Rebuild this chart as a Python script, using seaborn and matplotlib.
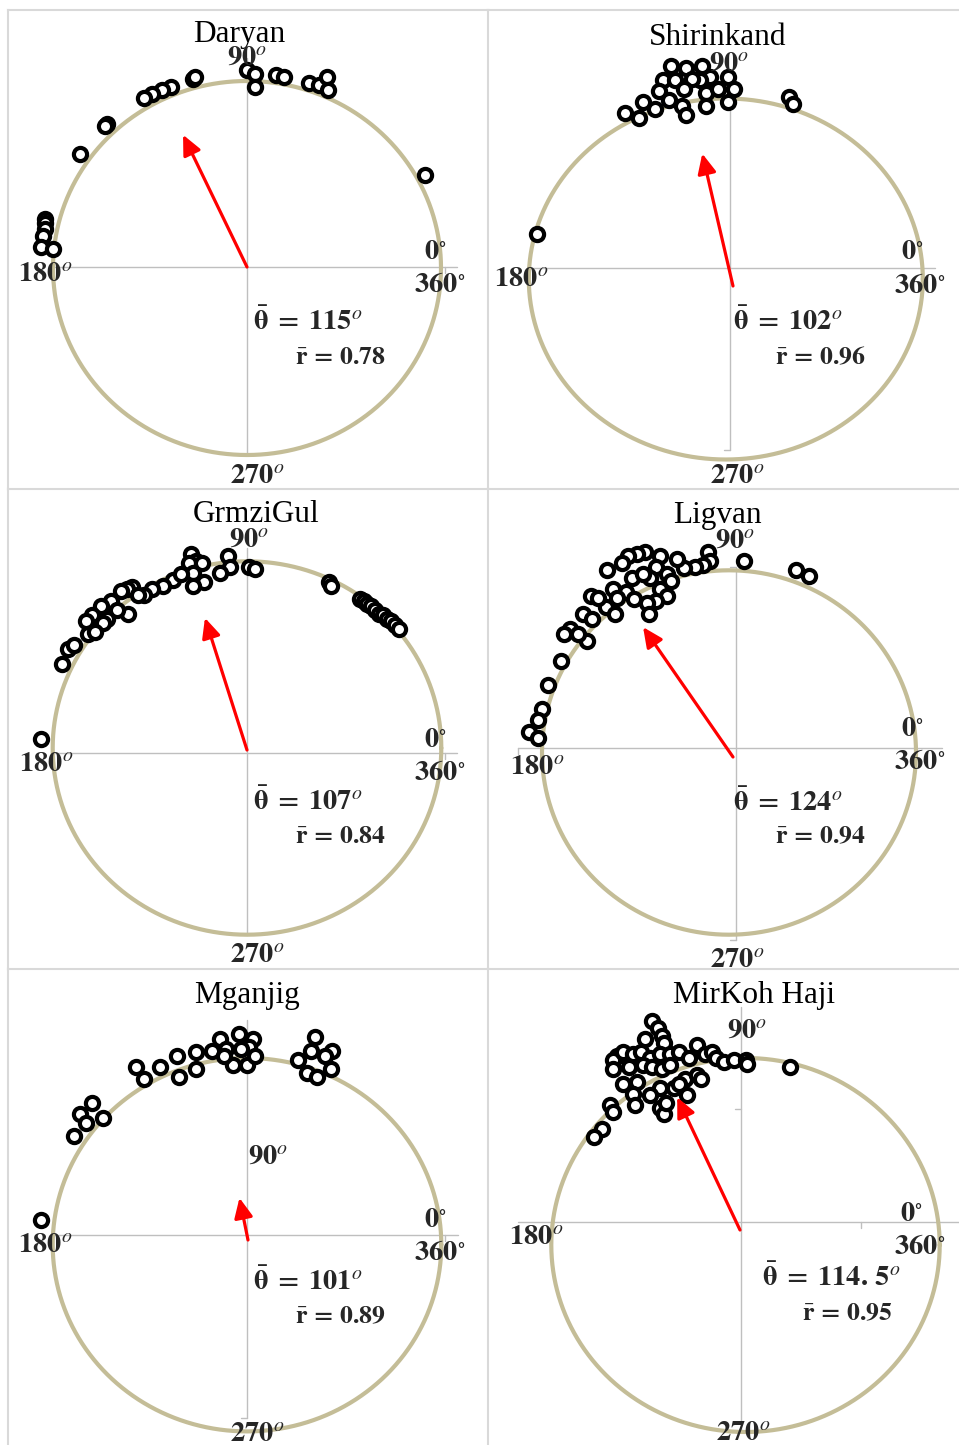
import numpy as np
import matplotlib
matplotlib.use("Agg")
import matplotlib.pyplot as plt
import seaborn as sns

# ---------------------------------------------------------------- data ----
stations = ["Daryan", "Shirinkand", "GrmziGul", "Ligvan", "Mganjig", "MirKoh Haji"]
mean_dir_deg = [115, 102, 107, 124, 101, 114.5]
mean_dir_text = ["115", "102", "107", "124", "101", "114.\\,5"]
mean_r = [0.78, 0.96, 0.84, 0.94, 0.89, 0.95]
arrow_len = [0.78, 0.75, 0.74, 0.86, 0.23, 0.78]

# observations as unit-circle components (east, north)
daryan_x = [0.00, 0.04, 0.04, 0.15, 0.19, 0.32, 0.37, 0.41, 0.42, -0.28, -0.27, -0.39, -0.44,
            -0.49, -0.53, -0.72, -0.73, -0.86, 0.92, -1.04, -1.04, -1.04, -1.05, -1.06, -1.00]
daryan_y = [1.06, 1.04, 0.97, 1.03, 1.02, 0.99, 0.98, 1.02, 0.95, 1.01, 1.02, 0.97, 0.95,
            0.93, 0.91, 0.77, 0.76, 0.61, 0.50, 0.26, 0.24, 0.21, 0.17, 0.11, 0.10]

shirinkand_x = [-0.28, -0.20, -0.12, -0.08, -0.13, -0.32, -0.26, -0.17, 0.01, -0.34, -0.21, -0.29, -0.10,
                -0.04, 0.04, 0.01, -0.42, -0.51, -0.44, -0.36, -0.22, -0.20, -0.10, 0.32, 0.34, -0.96]
shirinkand_y = [1.18, 1.17, 1.18, 1.12, 1.10, 1.10, 1.10, 1.11, 1.12, 1.04, 1.05, 0.99, 1.03,
                1.05, 1.05, 0.98, 0.98, 0.92, 0.89, 0.94, 0.96, 0.91, 0.96, 1.01, 0.97, 0.25]

grmzigul_x = [-0.29, -0.26, -0.30, -0.23, -0.28, -0.22, -0.28, -0.10, -0.09, -0.14, 0.01, 0.04,
              -0.38, -0.43, -0.49, -0.53, -0.59, -0.62, -0.65, -0.70, -0.75, -0.80, -0.83, -0.82,
              -0.61, -0.92, -0.95, -0.89, -1.06, 0.42, 0.43, 0.58, 0.60, 0.62, 0.64, 0.66, 0.68,
              0.70, 0.72, 0.74, 0.76, 0.78, -0.34, -0.56, -0.67, -0.72, -0.74, -0.78]
grmzigul_y = [1.04, 1.00, 0.99, 0.99, 0.94, 0.89, 0.87, 1.03, 0.97, 0.94, 0.97, 0.96,
              0.90, 0.87, 0.85, 0.82, 0.86, 0.85, 0.84, 0.79, 0.76, 0.71, 0.68, 0.61,
              0.72, 0.53, 0.45, 0.55, 0.05, 0.89, 0.87, 0.80, 0.79, 0.77, 0.76, 0.74, 0.72,
              0.71, 0.69, 0.68, 0.66, 0.64, 0.93, 0.82, 0.74, 0.69, 0.67, 0.62]

ligvan_x = [0.08, 0.36, 0.43, -0.11, -0.10, -0.14, -0.18, -0.24, -0.28, -0.37, -0.45, -0.49,
            -0.54, -0.57, -0.65, -0.39, -0.33, -0.42, -0.52, -0.46, -0.31, -0.37, -0.33, -0.39,
            -0.44, -0.43, -0.55, -0.62, -0.60, -0.66, -0.61, -0.74, -0.70, -0.78, -0.73, -0.85,
            -0.88, -0.76, -0.81, -0.90, -0.97, -1.00, -1.02, -1.07, -1.02, -0.51]
ligvan_y = [1.05, 1.00, 0.97, 1.10, 1.05, 1.03, 1.02, 1.01, 1.06, 1.08, 1.10, 1.09,
            1.08, 1.04, 1.00, 1.02, 0.98, 0.96, 0.96, 0.98, 0.94, 0.90, 0.86, 0.83,
            0.82, 0.76, 0.88, 0.90, 0.85, 0.80, 0.76, 0.86, 0.85, 0.76, 0.73, 0.68,
            0.65, 0.61, 0.65, 0.50, 0.37, 0.24, 0.18, 0.11, 0.08, 0.84]

mganjig_x = [-0.04, 0.03, 0.01, -0.14, -0.11, -0.18, -0.26, -0.26, -0.07, 0.00, 0.04, -0.03,
             -0.12, -0.36, -0.45, -0.35, -0.57, -0.53, 0.35, 0.33, 0.44, 0.40, 0.26, 0.43,
             0.31, 0.36, -0.80, -0.86, -0.74, -0.83, -0.89, -1.06]
mganjig_y = [1.13, 1.10, 1.06, 1.10, 1.05, 1.04, 1.03, 0.94, 0.96, 0.96, 1.01, 1.05,
             1.01, 1.01, 0.95, 0.90, 0.95, 0.89, 1.11, 1.04, 1.04, 1.01, 0.99, 0.94,
             0.92, 0.90, 0.76, 0.70, 0.68, 0.65, 0.58, 0.13]

mirkoh_x = [-0.48, -0.45, -0.43, -0.52, -0.42, -0.25, -0.66, -0.68, -0.63, -0.58, -0.54, -0.49,
            -0.44, -0.39, -0.34, -0.29, -0.21, -0.17, -0.15, -0.11, -0.06, 0.00, 0.01, 0.23,
            -0.68, -0.60, -0.53, -0.48, -0.43, -0.39, -0.31, -0.25, -0.23, -0.63, -0.56, -0.44,
            -0.37, -0.34, -0.30, -0.49, -0.58, -0.57, -0.44, -0.42, -0.41, -0.70, -0.68, -0.74, -0.78]
mirkoh_y = [1.20, 1.16, 1.12, 1.10, 1.08, 1.07, 1.01, 0.99, 1.03, 1.02, 1.03, 1.00,
            1.02, 1.02, 1.03, 1.00, 1.02, 1.03, 1.00, 0.98, 0.99, 0.99, 0.97, 0.95,
            0.94, 0.95, 0.96, 0.95, 0.94, 0.96, 0.89, 0.91, 0.89, 0.86, 0.87, 0.84,
            0.84, 0.86, 0.80, 0.80, 0.81, 0.75, 0.73, 0.70, 0.76, 0.75, 0.71, 0.62, 0.58]

obs_x = [daryan_x, shirinkand_x, grmzigul_x, ligvan_x, mganjig_x, mirkoh_x]
obs_y = [daryan_y, shirinkand_y, grmzigul_y, ligvan_y, mganjig_y, mirkoh_y]

# ------------------------------------------------------------- layout ----
W, H = 959, 1445
# pixel layout of each cell: cell box, circle centre/radii, axis cross, axis
# line extents and tick marks, arrow tail, label anchors
panels = [
    dict(cell=(8, 10, 488, 489), c=(247, 268), r=(194, 187), cross=(247, 267),
         h=(52, 457), v=(58, 455), ht=[445], vt=[], tail=(247, 267), title=(239, 42),
         l90=(247, 56, "center"), l180=(45, 272), l0=(435, 250), l360=(440, 283),
         l270=(257, 474), th=(253, 321), rb=(295, 355)),
    dict(cell=(488, 10, 959, 489), c=(725.8, 279), r=(197, 180.5), cross=(730, 268),
         h=(528, 935), v=(100, 450), ht=[], vt=[450], tail=(733, 286), title=(718, 45),
         l90=(729, 62, "center"), l180=(521, 277), l0=(912, 250), l360=(920, 284),
         l270=(737, 474), th=(733, 321), rb=(775, 355)),
    dict(cell=(8, 489, 488, 969), c=(247, 748), r=(194.3, 186.7), cross=(247, 753),
         h=(52, 457), v=(548, 935), ht=[445], vt=[], tail=(247, 750), title=(256, 522),
         l90=(249, 538, "center"), l180=(46, 762), l0=(435, 738), l360=(440, 771),
         l270=(257, 953), th=(253, 800), rb=(295, 834)),
    dict(cell=(488, 489, 959, 969), c=(729, 752.5), r=(187, 182.2), cross=(736, 748),
         h=(518, 942), v=(567, 940), ht=[518], vt=[567, 940], tail=(733, 757), title=(717, 523),
         l90=(735, 539, "center"), l180=(537, 765), l0=(912, 727), l360=(920, 760),
         l270=(737, 958), th=(733, 801), rb=(775, 834)),
    dict(cell=(8, 969, 488, 1445), c=(247, 1244.7), r=(194.3, 186.7), cross=(247, 1235),
         h=(52, 458), v=(1020, 1418), ht=[445], vt=[1418], tail=(248, 1240), title=(247, 1003),
         l90=(248, 1155, "left"), l180=(45, 1243), l0=(435, 1218), l360=(440, 1251),
         l270=(257, 1432), th=(253, 1281), rb=(295, 1314)),
    dict(cell=(488, 969, 959, 1445), c=(745.5, 1245), r=(194.2, 187), cross=(741, 1222),
         h=(518, 959), v=(1007, 1432), ht=[861], vt=[1109], tail=(740, 1230), title=(754, 1003),
         l90=(747, 1029, "center"), l180=(536, 1235), l0=(911, 1212), l360=(920, 1245),
         l270=(743, 1431), th=(762, 1277), rb=(802, 1311)),
]

RING = "#C4BD97"
AXIS_GREY = "#BFBFBF"
BORDER = "#D9D9D9"
LABEL_FS = 20.5
TICK_PX = 6
HALF_DIGIT = 9.0  # baseline sits this many pixels below a label's visual centre

sns.set_theme(style="white")
plt.rcParams["font.family"] = ["Liberation Serif", "DejaVu Serif"]
plt.rcParams["mathtext.fontset"] = "stix"

fig = plt.figure(figsize=(W / 100, H / 100), dpi=100)
fig.patch.set_facecolor("white")


def put(px, py, s, **kw):
    fig.text(px / W, 1 - py / H, s, **kw)


theta = np.linspace(0, 2 * np.pi, 721)

for i, p in enumerate(panels):
    L, T, R, B = p["cell"]
    cx, cy = p["c"]
    rx, ry = p["r"]
    ax = fig.add_axes([L / W, 1 - B / H, (R - L) / W, (B - T) / H])
    ax.set_xlim((L - cx) / rx, (R - cx) / rx)
    ax.set_ylim((cy - B) / ry, (cy - T) / ry)
    ax.set_xticks([])
    ax.set_yticks([])
    ax.set_facecolor("white")
    for side in ("right", "bottom"):
        ax.spines[side].set_visible(False)
    for side in ("left", "top"):
        ax.spines[side].set_color(BORDER)
        ax.spines[side].set_linewidth(1.5)

    def dx(px):
        return (px - cx) / rx

    def dy(py):
        return (cy - py) / ry

    # axis cross with its outside tick marks
    ox, oy = dx(p["cross"][0]), dy(p["cross"][1])
    line_kw = dict(color=AXIS_GREY, lw=1.0, zorder=1)
    ax.plot([dx(p["h"][0]), dx(p["h"][1])], [oy, oy], **line_kw)
    ax.plot([ox, ox], [dy(p["v"][1]), dy(p["v"][0])], **line_kw)
    for tx_px in p["ht"]:
        ax.plot([dx(tx_px)] * 2, [oy, dy(p["cross"][1] + TICK_PX)], **line_kw)
    for ty_px in p["vt"]:
        ax.plot([dx(p["cross"][0] - TICK_PX), ox], [dy(ty_px)] * 2, **line_kw)

    # unit circle
    ax.plot(np.cos(theta), np.sin(theta), color=RING, lw=3.0, zorder=2)

    # observations
    sns.scatterplot(x=obs_x[i], y=obs_y[i], ax=ax, s=90, marker="o",
                    facecolor="white", edgecolor="black", linewidth=3.0,
                    zorder=4, legend=False, clip_on=False)

    # mean direction vector
    tx, ty = dx(p["tail"][0]), dy(p["tail"][1])
    ang = np.deg2rad(mean_dir_deg[i])
    hx = tx + arrow_len[i] * np.cos(ang)
    hy = ty + arrow_len[i] * np.sin(ang)
    ax.annotate("", xy=(hx, hy), xytext=(tx, ty),
                arrowprops=dict(arrowstyle="-|>,head_length=0.6,head_width=0.28",
                                color="#FF0000", lw=2.3, shrinkA=0, shrinkB=0,
                                mutation_scale=20),
                zorder=5)

    # texts
    put(p["title"][0], p["title"][1], stations[i], fontsize=22.5,
        ha="center", va="baseline", color="black")
    x90, y90, ha90 = p["l90"]
    put(x90, y90 + HALF_DIGIT, r"$\mathbf{90}^{o}$", fontsize=LABEL_FS, ha=ha90, va="baseline")
    put(p["l180"][0], p["l180"][1] + HALF_DIGIT, r"$\mathbf{180}^{o}$",
        fontsize=LABEL_FS, ha="center", va="baseline")
    put(p["l270"][0], p["l270"][1] + HALF_DIGIT, r"$\mathbf{270}^{o}$",
        fontsize=LABEL_FS, ha="center", va="baseline")
    put(p["l0"][0], p["l0"][1] + HALF_DIGIT, r"$\mathbf{0}^{\circ}$",
        fontsize=LABEL_FS, ha="center", va="baseline")
    put(p["l360"][0], p["l360"][1] + HALF_DIGIT, r"$\mathbf{360}^{\circ}$",
        fontsize=LABEL_FS, ha="center", va="baseline")
    put(p["th"][0], p["th"][1] + HALF_DIGIT + 0.5,
        r"$\bar{\mathbf{\theta}}\;\mathbf{=}\;\mathbf{%s}^{o}$" % mean_dir_text[i],
        fontsize=20.5, ha="left", va="baseline")
    put(p["rb"][0], p["rb"][1] + HALF_DIGIT,
        r"$\bar{\mathbf{r}}\,\mathbf{=}\,\mathbf{%.2f}$" % mean_r[i],
        fontsize=18.5, ha="left", va="baseline")

fig.savefig("out.png", dpi=100, facecolor="white")
